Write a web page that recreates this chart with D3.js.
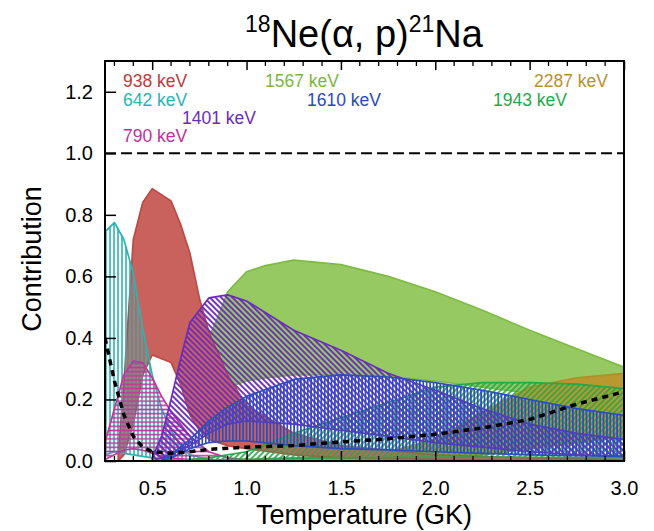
<!DOCTYPE html>
<html>
<head>
<meta charset="utf-8">
<script src="https://cdn.jsdelivr.net/npm/d3@7"></script>
<style>
  body { margin: 0; background: #fff; }
  svg { display: block; font-family: "Liberation Sans", Arial, Helvetica, sans-serif; }
</style>
</head>
<body>
<svg id="chart" width="654" height="531"></svg>
<script>
// Fractional contribution bands (low / high) of each resonance vs temperature (GK)
const t642 = [0.25, 0.30, 0.35, 0.40, 0.45, 0.50, 0.55, 0.60, 0.65, 0.70, 0.80];
const lo642 = [0.02, 0.03, 0.025, 0.02, 0.015, 0.01, 0.008, 0.005, 0.003, 0.002, 0.0];
const hi642 = [0.745, 0.775, 0.72, 0.61, 0.43, 0.28, 0.17, 0.10, 0.05, 0.02, 0.005];

const t938 = [0.32, 0.35, 0.40, 0.45, 0.50, 0.60, 0.65, 0.70, 0.75, 0.80, 0.90, 1.00, 1.25, 1.50, 2.00, 2.50, 3.00];
const lo938 = [0.0, 0.02, 0.12, 0.28, 0.345, 0.32, 0.25, 0.15, 0.10, 0.07, 0.05, 0.04, 0.02, 0.01, 0.005, 0.002, 0.001];
const hi938 = [0.02, 0.25, 0.72, 0.84, 0.885, 0.845, 0.77, 0.675, 0.53, 0.42, 0.28, 0.18, 0.09, 0.05, 0.02, 0.01, 0.005];

const t790 = [0.25, 0.30, 0.35, 0.40, 0.45, 0.50, 0.55, 0.60, 0.70, 0.80, 0.90, 1.00];
const lo790 = [0.005, 0.02, 0.035, 0.04, 0.035, 0.025, 0.015, 0.01, 0.004, 0.001, 0.0, 0.0];
const hi790 = [0.06, 0.17, 0.28, 0.325, 0.32, 0.27, 0.21, 0.16, 0.08, 0.03, 0.01, 0.003];

const t1401 = [0.50, 0.55, 0.60, 0.65, 0.70, 0.80, 0.90, 1.00, 1.25, 1.50, 1.75, 2.00, 2.25, 2.50, 2.75, 3.00];
const lo1401 = [0.0, 0.01, 0.02, 0.035, 0.05, 0.09, 0.12, 0.13, 0.12, 0.10, 0.08, 0.06, 0.045, 0.03, 0.02, 0.015];
const hi1401 = [0.01, 0.08, 0.20, 0.33, 0.45, 0.53, 0.54, 0.52, 0.425, 0.36, 0.285, 0.23, 0.17, 0.12, 0.09, 0.07];

const t1567 = [0.80, 0.85, 0.90, 1.00, 1.10, 1.25, 1.50, 1.75, 2.00, 2.25, 2.50, 2.75, 3.00];
const lo1567 = [0.20, 0.22, 0.24, 0.26, 0.27, 0.28, 0.28, 0.275, 0.26, 0.24, 0.22, 0.20, 0.18];
const hi1567 = [0.40, 0.47, 0.55, 0.615, 0.635, 0.653, 0.638, 0.60, 0.55, 0.49, 0.425, 0.365, 0.305];

const t1610 = [0.55, 0.60, 0.70, 0.80, 0.90, 1.00, 1.25, 1.50, 1.75, 2.00, 2.25, 2.50, 2.75, 3.00];
const lo1610 = [0.0, 0.01, 0.04, 0.06, 0.065, 0.065, 0.05, 0.04, 0.036, 0.03, 0.025, 0.02, 0.017, 0.015];
const hi1610 = [0.005, 0.02, 0.07, 0.13, 0.175, 0.21, 0.265, 0.28, 0.273, 0.255, 0.23, 0.20, 0.17, 0.148];

const t1943 = [0.60, 0.80, 1.00, 1.25, 1.50, 1.75, 2.00, 2.25, 2.50, 2.75, 3.00];
const lo1943 = [0.0, 0.003, 0.005, 0.008, 0.01, 0.011, 0.012, 0.012, 0.012, 0.011, 0.01];
const hi1943 = [0.0, 0.01, 0.03, 0.09, 0.14, 0.19, 0.24, 0.255, 0.255, 0.25, 0.235];

const t2287 = [0.80, 1.00, 1.50, 1.75, 2.00, 2.25, 2.50, 2.75, 3.00];
const lo2287 = [0.0, 0.0, 0.003, 0.005, 0.01, 0.02, 0.04, 0.06, 0.08];
const hi2287 = [0.0, 0.005, 0.015, 0.03, 0.07, 0.16, 0.24, 0.27, 0.285];

// Dotted black curve
const tSum = [0.25, 0.30, 0.35, 0.40, 0.45, 0.50, 0.60, 0.70, 0.80, 1.00, 1.25, 1.50, 1.75, 2.00, 2.25, 2.50, 2.75, 3.00];
const vSum = [0.40, 0.26, 0.15, 0.08, 0.045, 0.03, 0.025, 0.03, 0.038, 0.045, 0.05, 0.062, 0.072, 0.087, 0.107, 0.135, 0.185, 0.225];

// Axis ticks
const xMajorTicks = [0.5, 1.0, 1.5, 2.0, 2.5, 3.0];
const yMajorTicks = [0.0, 0.2, 0.4, 0.6, 0.8, 1.0, 1.2];

// Resonance labels
const labelNames = ["938 keV", "642 keV", "1401 keV", "790 keV", "1567 keV", "1610 keV", "2287 keV", "1943 keV"];

// ---------------------------------------------------------------
const svg = d3.select("#chart");
const padL = 105, padR = 624, padT = 61, padB = 461;

const x = d3.scaleLinear().domain([0.25, 3.0]).range([padL, padR]);
const y = d3.scaleLinear().domain([0, 1.3]).range([padB, padT]);

const defs = svg.append("defs");
defs.append("clipPath").attr("id", "plotClip")
  .append("rect").attr("x", padL).attr("y", padT)
  .attr("width", padR - padL).attr("height", padB - padT);

// hatch patterns
function hatch(id, color, spacing, angle, width) {
  const p = defs.append("pattern").attr("id", id)
    .attr("patternUnits", "userSpaceOnUse")
    .attr("width", spacing).attr("height", spacing)
    .attr("patternTransform", `rotate(${angle})`);
  p.append("line").attr("x1", spacing / 2).attr("x2", spacing / 2)
    .attr("y1", -1).attr("y2", spacing + 1)
    .attr("stroke", color).attr("stroke-width", width);
  return `url(#${id})`;
}

const series = [
  { t: t1567, lo: lo1567, hi: hi1567, fill: "#97c963", stroke: "#7dbb45" },
  { t: t2287, lo: lo2287, hi: hi2287, fill: "#b9982f", stroke: "#b08f2a" },
  { t: t938,  lo: lo938,  hi: hi938,  fill: "#c9625d", stroke: "#bd4a45" },
  { t: t642,  lo: lo642,  hi: hi642,  fill: hatch("h642", "#2bb3b3", 4, 0, 1.6), stroke: "#2bb3b3" },
  { t: t790,  lo: lo790,  hi: hi790,  fill: hatch("h790", "#c2379d", 4.2, 90, 1.6), stroke: "#c2379d" },
  { t: t1943, lo: lo1943, hi: hi1943, fill: hatch("h1943", "#24a84a", 4, 45, 1.7), stroke: "#24a84a" },
  { t: t1401, lo: lo1401, hi: hi1401, fill: hatch("h1401", "#6b2cbc", 4, -45, 1.9), stroke: "#6b2cbc" },
  { t: t1610, lo: lo1610, hi: hi1610, fill: hatch("h1610", "#2d4dc0", 3.4, 0, 1.7), stroke: "#2d4dc0" }
];

const plot = svg.append("g").attr("clip-path", "url(#plotClip)");

const area = d3.area().x(d => x(d.t)).y0(d => y(d.lo)).y1(d => y(d.hi));
const outline = d3.line().x(d => d[0]).y(d => d[1]).curve(d3.curveLinearClosed);

series.forEach(s => {
  const pts = s.t.map((t, i) => ({ t, lo: s.lo[i], hi: s.hi[i] }));
  plot.append("path").attr("d", area(pts)).attr("fill", s.fill).attr("stroke", "none");
  const ring = pts.map(p => [x(p.t), y(p.hi)])
    .concat(pts.slice().reverse().map(p => [x(p.t), y(p.lo)]));
  plot.append("path").attr("d", outline(ring))
    .attr("fill", "none").attr("stroke", s.stroke).attr("stroke-width", 1.7)
    .attr("stroke-linejoin", "round");
});

// dotted total curve
plot.append("path")
  .datum(tSum.map((t, i) => [t, vSum[i]]))
  .attr("d", d3.line().x(d => x(d[0])).y(d => y(d[1])))
  .attr("fill", "none").attr("stroke", "#000").attr("stroke-width", 3.5)
  .attr("stroke-dasharray", "6,5");

// unity reference line
svg.append("line")
  .attr("x1", padL).attr("x2", padR).attr("y1", y(1.0)).attr("y2", y(1.0))
  .attr("stroke", "#000").attr("stroke-width", 2).attr("stroke-dasharray", "11,5");

// axes: inward ticks
const xMinor = d3.range(3, 31).map(v => v / 10).filter(v => !xMajorTicks.some(m => Math.abs(m - v) < 1e-9));

const bottomAxis = svg.append("g").attr("transform", `translate(0,${padB})`)
  .call(d3.axisBottom(x).tickValues(xMajorTicks).tickFormat(d3.format(".1f"))
    .tickSizeInner(-10).tickSizeOuter(0).tickPadding(20));
const leftAxis = svg.append("g").attr("transform", `translate(${padL},0)`)
  .call(d3.axisLeft(y).tickValues(yMajorTicks).tickFormat(d3.format(".1f"))
    .tickSizeInner(-11).tickSizeOuter(0).tickPadding(12));
const topAxis = svg.append("g").attr("transform", `translate(0,${padT})`)
  .call(d3.axisTop(x).tickValues(xMajorTicks).tickFormat("")
    .tickSizeInner(-9).tickSizeOuter(0));

[bottomAxis, leftAxis, topAxis].forEach(g => {
  g.select(".domain").remove();
  g.selectAll(".tick line").attr("stroke", "#000").attr("stroke-width", 1.5);
  g.selectAll(".tick text").attr("fill", "#000").attr("font-size", 20)
    .attr("font-family", "Liberation Sans, Arial, sans-serif");
});

svg.append("g").selectAll("line").data(xMinor).join("line")
  .attr("x1", d => x(d)).attr("x2", d => x(d))
  .attr("y1", padB).attr("y2", padB - 5)
  .attr("stroke", "#000").attr("stroke-width", 1.3);
svg.append("g").selectAll("line").data(xMinor).join("line")
  .attr("x1", d => x(d)).attr("x2", d => x(d))
  .attr("y1", padT).attr("y2", padT + 5)
  .attr("stroke", "#000").attr("stroke-width", 1.3);

// frame
svg.append("rect").attr("x", padL).attr("y", padT)
  .attr("width", padR - padL).attr("height", padB - padT)
  .attr("fill", "none").attr("stroke", "#000").attr("stroke-width", 2);

// axis titles
svg.append("text").attr("x", 364).attr("y", 524).attr("text-anchor", "middle")
  .attr("font-size", 27).text("Temperature (GK)");
svg.append("text").attr("transform", "translate(41,259) rotate(-90)")
  .attr("text-anchor", "middle").attr("font-size", 27).text("Contribution");

// title with isotope superscripts
const title = svg.append("text").attr("x", 364).attr("y", 47)
  .attr("text-anchor", "middle").attr("font-size", 38);
title.append("tspan").attr("font-size", 23).attr("dy", -15).text("18");
title.append("tspan").attr("dy", 15).text("Ne(α, p)");
title.append("tspan").attr("font-size", 23).attr("dy", -15).text("21");
title.append("tspan").attr("dy", 15).text("Na");

// resonance energy labels
const labelColors = ["#c0393b", "#2ab4b4", "#6a2cbc", "#c0309a", "#7ab83c", "#2a48bf", "#b8902a", "#22aa4a"];
const labelX = [123, 123, 182, 123, 265, 307, 534, 493];
const labelY = [87, 106, 124, 142, 87, 106, 87, 106];
svg.append("g").selectAll("text").data(labelNames).join("text")
  .attr("x", (d, i) => labelX[i]).attr("y", (d, i) => labelY[i])
  .attr("fill", (d, i) => labelColors[i]).attr("font-size", 17.5)
  .text(d => d);
</script>
</body>
</html>
